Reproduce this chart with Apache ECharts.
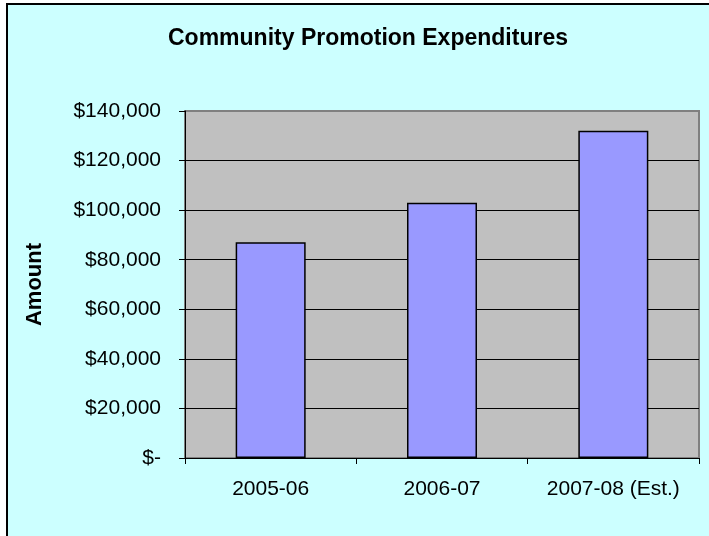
<!DOCTYPE html>
<html>
<head>
<meta charset="utf-8">
<script src="https://cdn.jsdelivr.net/npm/echarts@6/dist/echarts.min.js"></script>
<style>
  html, body { margin: 0; padding: 0; background: #ffffff; }
  #chart { width: 709px; height: 536px; }
</style>
</head>
<body>
<div id="chart"></div>
<script>
// Fiscal years and spending on community promotion
const categories = ['2005-06', '2006-07', '2007-08 (Est.)'];
const expenditures = [87000, 103000, 132000];
const yTickLabels = ['$-', '$20,000', '$40,000', '$60,000', '$80,000', '$100,000', '$120,000', '$140,000'];

const FONT = 'Arial, "Liberation Sans", sans-serif';

const chart = echarts.init(document.getElementById('chart'), null, { renderer: 'canvas' });

chart.setOption({
  animation: false,
  backgroundColor: '#ffffff',
  graphic: [{
    type: 'rect',
    z: -100,
    silent: true,
    shape: { x: 7, y: 4, width: 760, height: 600 },
    style: { fill: '#CCFFFF', stroke: '#000000', lineWidth: 2 }
  }],
  title: {
    text: 'Community Promotion Expenditures',
    left: 363,
    top: 22,
    textAlign: 'center',
    textStyle: { fontFamily: FONT, fontSize: 23, fontWeight: 'bold', color: '#000000' }
  },
  grid: {
    left: 185,
    right: 10,
    top: 111,
    bottom: 78,
    show: true,
    backgroundColor: '#C0C0C0',
    borderColor: '#808080',
    borderWidth: 2
  },
  xAxis: {
    type: 'category',
    data: categories,
    axisLine: { show: true, lineStyle: { color: '#000000', width: 1 } },
    axisTick: { show: true, length: 6, inside: false, alignWithLabel: false, interval: 0, lineStyle: { color: '#000000' } },
    axisLabel: { interval: 0, hideOverlap: false, margin: 21, fontFamily: FONT, fontSize: 21, color: '#000000' },
    splitLine: { show: false }
  },
  yAxis: {
    type: 'value',
    min: 0,
    max: 140000,
    interval: 20000,
    name: 'Amount',
    nameLocation: 'middle',
    nameRotate: 90,
    nameGap: 139,
    nameTextStyle: { fontFamily: FONT, fontSize: 22, fontWeight: 'bold', color: '#000000' },
    axisLine: { show: true, lineStyle: { color: '#000000', width: 1 } },
    axisTick: { show: true, length: 6, inside: false, lineStyle: { color: '#000000' } },
    axisLabel: {
      margin: 24,
      fontFamily: FONT,
      fontSize: 21,
      color: '#000000',
      formatter: (v) => yTickLabels[Math.round(v / 20000)]
    },
    splitLine: {
      show: true,
      lineStyle: {
        color: ['#000000', '#000000', '#000000', '#000000', '#000000', '#000000', '#000000', '#808080'],
        width: 1
      }
    }
  },
  series: [{
    type: 'bar',
    data: expenditures,
    barWidth: 70,
    itemStyle: { color: '#9999FF', borderColor: '#000000', borderWidth: 1.5 }
  }]
});
</script>
</body>
</html>
